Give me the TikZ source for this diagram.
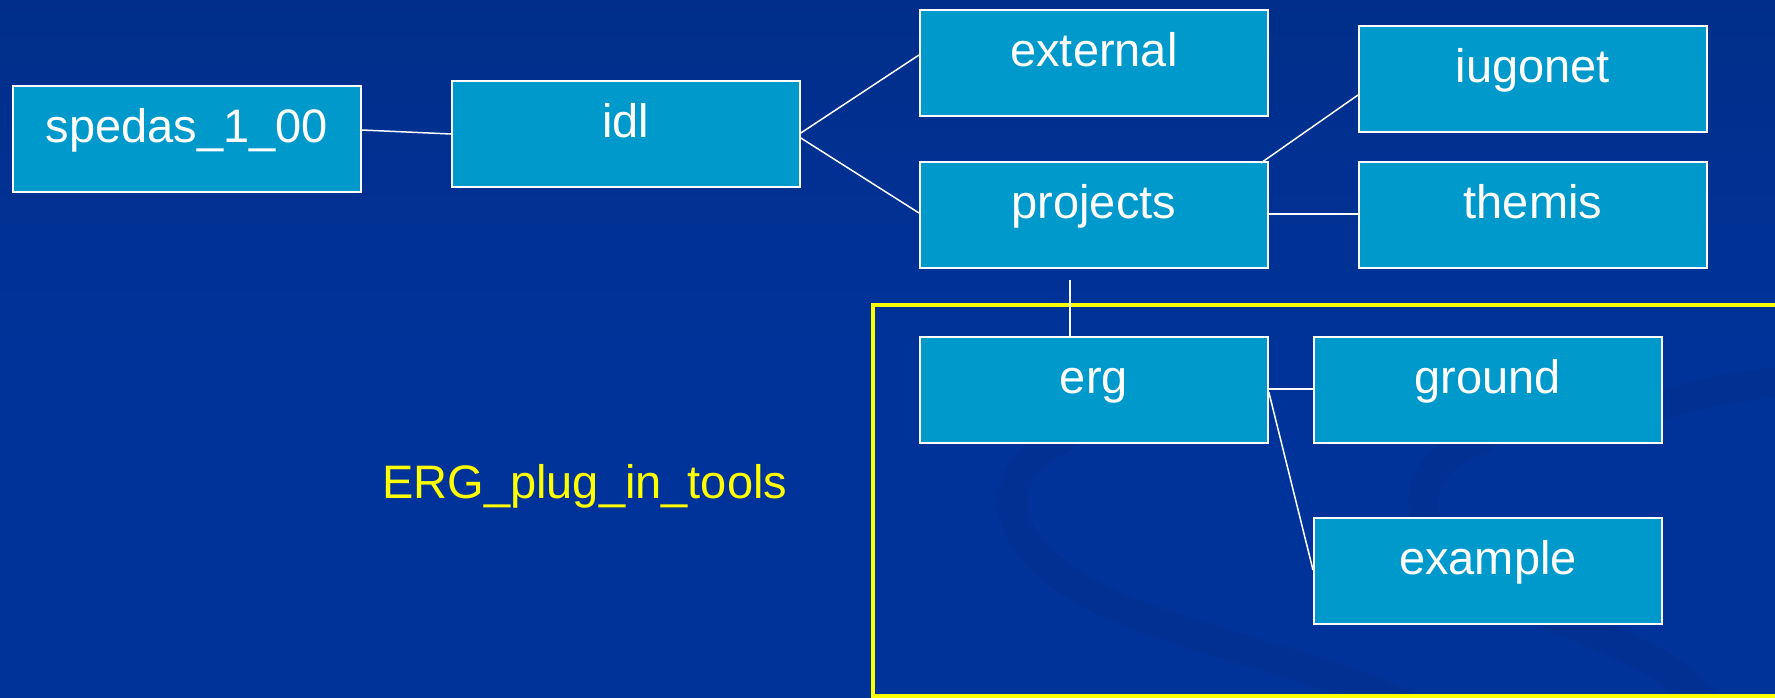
\documentclass[tikz,border=0pt]{standalone}
\usepackage{fontspec}
\setmainfont{Liberation Sans}
\usetikzlibrary{calc}
\definecolor{bgtop}{HTML}{002E8A}
\definecolor{bgmain}{HTML}{003399}
\definecolor{swoosh}{HTML}{002C86}
\definecolor{boxfill}{HTML}{0099CC}
\definecolor{hiyellow}{HTML}{FFFF00}
\tikzset{
  dirbox/.style={draw=white, line width=1.8pt, fill=boxfill, text=white,
    anchor=north west, inner sep=0pt, minimum width=348pt,
    text height=57pt, text depth=49pt, align=center,
    font=\fontsize{47}{50}\selectfont},
  link/.style={draw=white, line width=1.5pt},
  band/.style={draw=swoosh, line width=30pt, opacity=0.35, line cap=round},
}
\begin{document}
\begin{tikzpicture}[x=1pt,y=-1pt]
\useasboundingbox (0,0) rectangle (1775,698);
\begin{scope}
\clip (0,0) rectangle (1775,698);
\shade[top color=bgtop, bottom color=bgmain, middle color=bgmain] (0,0) rectangle (1775,698);
% faint background swooshes
\draw[band] (1060,440) .. controls (990,470) and (980,560) .. (1150,620) .. controls (1300,670) and (1400,690) .. (1420,720);
\draw[band] (1480,440) .. controls (1390,470) and (1400,560) .. (1560,620) .. controls (1650,655) and (1700,680) .. (1710,720);
\draw[band] (1620,420) .. controls (1680,395) and (1740,385) .. (1800,380);
% yellow frame
\draw[hiyellow, line width=4pt] (873,305) rectangle (1800,696);
\end{scope}

\node[dirbox] (spedas)   at (12,85)    {spedas\_1\_00};
\node[dirbox] (idl)      at (451,80)   {idl};
\node[dirbox] (external) at (919,9)    {external};
\node[dirbox] (projects) at (919,161)  {projects};
\node[dirbox] (iugonet)  at (1358,25)  {iugonet};
\node[dirbox] (themis)   at (1358,161) {themis};
\node[dirbox] (erg)      at (919,336)  {erg};
\node[dirbox] (ground)   at (1313,336) {ground};
\node[dirbox] (example)  at (1313,517) {example};

\coordinate (projstub) at ($(projects.south west)+(151,11)$);

\draw[link] ($(spedas.north east)+(0,45)$) -- ($(idl.north west)+(0,54)$);
\draw[link] ($(idl.north east)+(0,53)$) -- ($(external.north west)+(0,46)$);
\draw[link] ($(idl.north east)+(0,58)$) -- ($(projects.north west)+(0,52)$);
\draw[link] ($(projects.north east)+(-8,2)$) -- ($(iugonet.north west)+(0,70)$);
\draw[link] ($(projects.north east)+(0,53)$) -- ($(themis.north west)+(0,53)$);
\draw[link] (projstub) -- ($(erg.north west)+(151,0)$);
\draw[link] ($(erg.north east)+(0,53)$) -- ($(ground.north west)+(0,53)$);
\draw[link] ($(erg.north east)+(0,56)$) -- ($(example.north west)+(0,53)$);

\node[anchor=base west, text=hiyellow, font=\fontsize{47}{50}\selectfont, inner sep=0pt] (plugin) at (382,498) {ERG\_plug\_in\_tools};
\end{tikzpicture}
\end{document}
